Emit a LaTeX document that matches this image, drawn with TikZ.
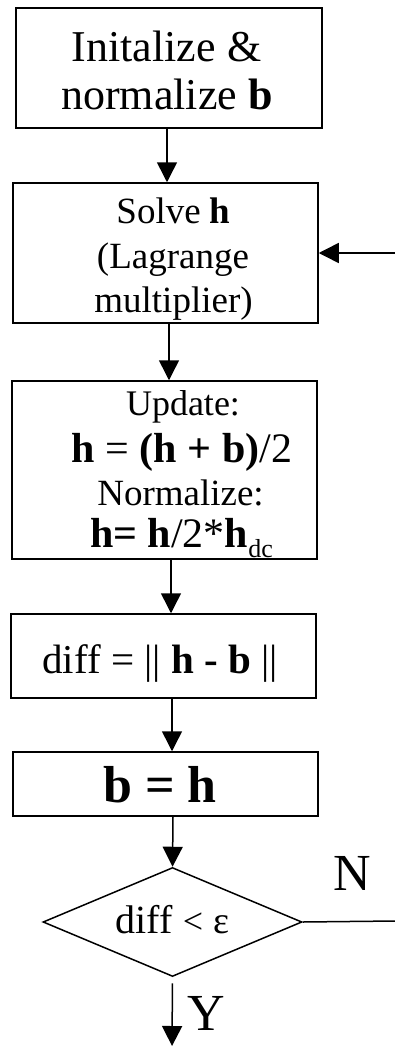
\documentclass[tikz,border=0pt]{standalone}
\usepackage{fontspec}
\setmainfont{Liberation Serif}
\usetikzlibrary{arrows.meta,shapes.geometric}
\newcommand\fsz[1]{\fontsize{#1}{#1}\selectfont}
\begin{document}
\begin{tikzpicture}[x=1pt,y=-1pt,
  box/.style={draw, line width=1.5pt, inner sep=0pt},
  txt/.style={inner sep=0pt, anchor=base},
  arr/.style={line width=1.5pt, -{Triangle[width=20pt,length=20pt]}},
  conn/.style={line width=1.5pt}]
\useasboundingbox (0,0) rectangle (395,1046);
% boxes
\node[box, minimum width=306pt, minimum height=120pt] (b1) at (169,68) {};
\node[box, minimum width=305pt, minimum height=140pt] (b2) at (165.5,253) {};
\node[box, minimum width=305pt, minimum height=178pt] (b3) at (164.5,470) {};
\node[box, minimum width=305pt, minimum height=84pt] (b4) at (163.5,656) {};
\node[box, minimum width=305pt, minimum height=64pt] (b5) at (165.5,784) {};
\node[box, diamond, minimum width=259pt, minimum height=109pt] (d) at (172.5,922) {};
% texts
\node[txt, font=\fsz{44}] (t1a) at (166.5,62) {Initalize \&};
\node[txt, font=\fsz{44}] (t1b) at (167,110) {normalize \textbf{b}};
\node[txt, font=\fsz{37}] (t2a) at (173.5,223) {Solve \textbf{h}};
\node[txt, font=\fsz{37}] (t2b) at (173,268) {(Lagrange};
\node[txt, font=\fsz{37}] (t2c) at (173.5,312) {multiplier)};
\node[txt, font=\fsz{36}] (t3a) at (183,415) {Update:};
\node[txt, font=\fsz{42}] (t3b) at (182,462) {\textbf{h} = \textbf{(h + b)}/2};
\node[txt, font=\fsz{37}] (t3c) at (180.5,505) {Normalize:};
\node[txt, font=\fsz{42}] (t3d) at (181.5,547) {\textbf{h= h}/2*\textbf{h}\raisebox{-10pt}{\fsz{26}dc}};
\node[txt, font=\fsz{41}] (t4) at (160,673) {diff = \textbar\textbar\ \textbf{h - b} \textbar\textbar};
\node[txt, font=\fsz{52}] (t5) at (160,802) {\textbf{b = h}};
\node[txt, font=\fsz{40}] (t6) at (172.5,933) {diff {\fsz{36}<} {\fsz{38}ε}};
\node[txt, font=\fsz{52}, anchor=base west] (tn) at (333,890) {N};
\node[txt, font=\fsz{52}, anchor=base west] (ty) at (187,1030) {Y};
% arrow columns
\coordinate (x1) at (167,0);
\coordinate (x2) at (169,0);
\coordinate (x3) at (171,0);
\coordinate (x4) at (172,0);
\coordinate (x5) at (173,0);
\coordinate (fb) at (395,253);
\coordinate (ne) at (395,921);
\coordinate (ye) at (172,1046);
% connectors
\draw[arr] (b1.south -| x1) -- (b2.north -| x1);
\draw[arr] (b2.south -| x2) -- (b3.north -| x2);
\draw[arr] (b3.south -| x3) -- (b4.north -| x3);
\draw[arr] (b4.south -| x4) -- (b5.north -| x4);
\draw[arr] (b5.south -| x5) -- (d.north);
\draw[arr] (fb) -- (b2.east |- fb);
\draw[conn] (d.east) -- (ne);
\draw[arr, shorten <=6pt] (d.south) -- (ye);
\end{tikzpicture}
\end{document}
